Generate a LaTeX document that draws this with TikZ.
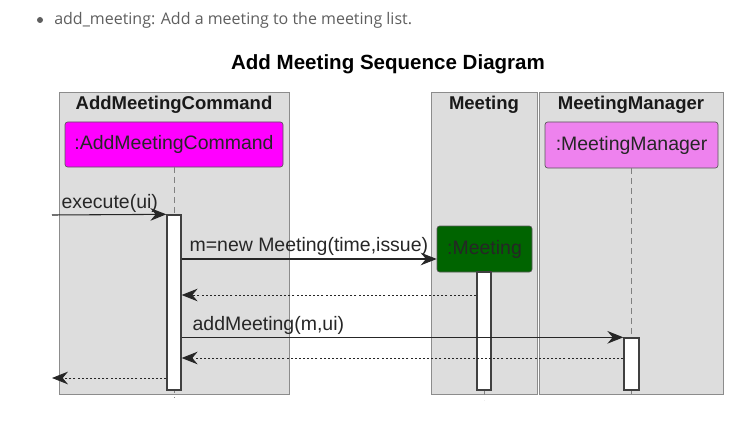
\documentclass[tikz,border=0pt]{standalone}
\usepackage{fontspec}
\setmainfont{Liberation Sans}
\newfontfamily\docfont{Open Sans}
\usetikzlibrary{arrows.meta,positioning,calc}

\definecolor{framegray}{HTML}{DDDDDD}
\definecolor{frameline}{HTML}{8C8C8C}
\definecolor{msgline}{HTML}{262626}
\definecolor{docgray}{HTML}{5E5E5E}
\definecolor{cmdmagenta}{HTML}{FF00FF}
\definecolor{mgrviolet}{HTML}{EE82EE}
\definecolor{meetgreen}{HTML}{006400}

\begin{document}
\begin{tikzpicture}[x=0.75pt,y=-0.75pt,
        frame/.style={fill=framegray,draw=frameline,line width=0.6pt},
        head/.style={font=\bfseries\fontsize{13.9}{16}\selectfont,text=black!90},
        part/.style={draw=black!65,line width=0.5pt,rounded corners=2pt,
                font=\fontsize{14.6}{17}\selectfont,text=black!85,inner sep=0pt},
        actbar/.style={draw=black!75,fill=white,line width=1pt,inner sep=0pt,minimum width=10.5pt},
        life/.style={draw=black!50,line width=0.6pt,dash pattern=on 4pt off 3.5pt},
        msg/.style={draw=msgline,line width=0.8pt,-{Stealth[length=12pt,width=9.5pt,inset=4pt]}},
        ret/.style={msg,line width=0.65pt,dash pattern=on 1.5pt off 1.6pt},
        lbl/.style={font=\fontsize{14.6}{17}\selectfont,text=black!85,inner sep=1pt,anchor=south west}]
        \useasboundingbox (0,0) rectangle (741,431);

        % page text
        \fill[docgray] (40,20) circle (3);
        \node[anchor=west,inner sep=0pt,text=docgray,font=\docfont\fontsize{12}{14}\selectfont] (doc) at (54,20) {add\_meeting: Add a meeting to the meeting list.};
        \node[font=\bfseries\fontsize{15.4}{18}\selectfont] (title) at (388,64) {Add Meeting Sequence Diagram};

        % boxes
        \draw[frame] (59,92) rectangle (289,394);
        \draw[frame] (431,92) rectangle (537,394);
        \draw[frame] (539,92) rectangle (723,394);
        \node[head] (cmdhead) at (174,105) {AddMeetingCommand};
        \node[head] (meethead) at (484,105) {Meeting};
        \node[head] (mgrhead) at (631,105) {MeetingManager};

        % participants
        \node[part,fill=cmdmagenta,minimum width=163.5pt,minimum height=33.75pt] (cmdobj) at (174,144.5) {:AddMeetingCommand};
        \node[part,fill=mgrviolet,minimum width=129.75pt,minimum height=34.5pt] (mgrobj) at (631.5,145) {:MeetingManager};
        \node[part,fill=meetgreen,minimum width=71.25pt,minimum height=34.5pt] (meetobj) at (484.5,249) {:Meeting};

        % lifelines
        \coordinate (cmdend) at (174,398);
        \coordinate (meetend) at (484,400);
        \coordinate (mgrend) at (631.5,398);
        \draw[life] (cmdobj.south) -- (cmdend);
        \draw[life] (mgrobj.south) -- (mgrend);
        \draw[life] (484,390) -- (meetend);

        % activations
        \node[actbar,minimum height=131.25pt] (cmdbar) at (174,302.5) {};
        \node[actbar,minimum height=88.5pt] (meetbar) at (484,331) {};
        \node[actbar,minimum width=11.25pt,minimum height=39pt] (mgrbar) at (631.5,364) {};

        % messages
        \coordinate (callin) at (52,215);
        \coordinate (callout) at (52,378);
        \draw[msg] (callin) -- (cmdbar.north west);
        \node[lbl] (execlbl) at ($(callin)+(8,-1)$) {execute(ui)};

        \draw[msg] (cmdbar.east |- 0,259) -- (meetobj.west |- 0,259);
        \node[lbl] (newlbl) at (188,257) {m=new Meeting(time,issue)};
        \draw[ret] (meetbar.west |- 0,295) -- (cmdbar.east |- 0,295);

        \draw[msg] (cmdbar.east |- mgrbar.north) -- (mgrbar.north west);
        \node[lbl] (addlbl) at (191,336) {addMeeting(m,ui)};
        \draw[ret] (mgrbar.west |- 0,358) -- (cmdbar.east |- 0,358);

        \draw[ret] (cmdbar.west |- callout) -- (callout);
\end{tikzpicture}
\end{document}
